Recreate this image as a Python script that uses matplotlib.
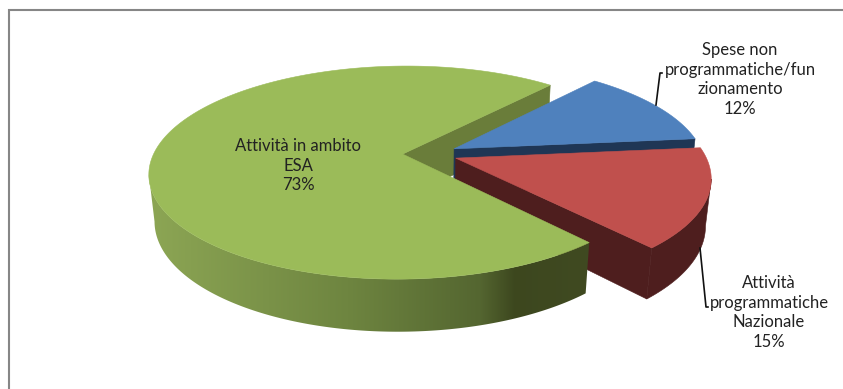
import matplotlib
matplotlib.use('Agg')
import matplotlib.pyplot as plt
from matplotlib.patches import Polygon
import numpy as np

labels = ['Spese non\nprogrammatiche/fun\nzionamento', 'Attività\nprogrammatiche\nNazionale', 'Attività in ambito\nESA']
shares = [12, 15, 73]

top_colors = ['#4f81bd', '#c0504d', '#9bbb59']
edge_wall_colors = ['#1f3655', '#4e1e1e', '#6a7d3a']

# shading of the green outer wall, from its left end to its right end
green_wall_x = [150, 350, 480, 515, 590]
green_wall_rgb = [[0.55, 0.65, 0.33], [0.43, 0.52, 0.25], [0.33, 0.40, 0.19], [0.24, 0.28, 0.12], [0.25, 0.29, 0.13]]

start_angle = 41.0   # clockwise from the back of the pie
explode = 0.11

# camera set up by hand, everything in pixels
cx, cy = 430, 154
scale_x, scale_y = 249, 103.3
persp = 0.1737
depth = 47
depth_persp = 0.02

def project(u, v, z=0.0):
    w = 1 + persp * v + depth_persp * z
    return cx + scale_x * u / w, cy - (scale_y * v - depth * z) / w

def slice_angles():
    edges = start_angle + 360 * np.cumsum([0] + shares) / np.sum(shares)
    return np.radians(edges[:-1]), np.radians(edges[1:])

def offset(a0, a1):
    mid = (a0 + a1) / 2
    return explode * np.sin(mid), explode * np.cos(mid)

def arc_points(a0, a1, off, z=0.0, n=400):
    t = np.linspace(a0, a1, n)
    return project(np.sin(t) + off[0], np.cos(t) + off[1], z)

def top_face(ax, a0, a1, off, color, zo):
    x, y = arc_points(a0, a1, off)
    ax0, ay0 = project(off[0], off[1])
    ax.fill(np.r_[ax0, x], np.r_[ay0, y], color=color, lw=0.4, zorder=zo)

def radial_wall(ax, angle, off, color, zo):
    tip = (np.sin(angle) + off[0], np.cos(angle) + off[1])
    pts = [project(off[0], off[1]), project(*tip), project(tip[0], tip[1], 1), project(off[0], off[1], 1)]
    ax.fill(*zip(*pts), color=color, lw=0.4, zorder=zo)

def left_wall(a0, a1, off):
    # arc runs towards the left silhouette, stop each rim at its own extreme
    xa, ya = arc_points(a0, a1, off, 0)
    xb, yb = arc_points(a0, a1, off, 1)
    ia, ib = np.argmin(xa) + 1, np.argmin(xb) + 1
    return np.c_[np.r_[xa[:ia], xb[:ib][::-1]], np.r_[ya[:ia], yb[:ib][::-1]]]

def right_wall(a0, a1, off):
    # arc starts before the right silhouette, begin each rim at its own extreme
    xa, ya = arc_points(a0, a1, off, 0)
    xb, yb = arc_points(a0, a1, off, 1)
    ia, ib = np.argmax(xa), np.argmax(xb)
    return np.c_[np.r_[xa[ia:], xb[ib:][::-1]], np.r_[ya[ia:], yb[ib:][::-1]]]

fig = plt.figure(figsize=(8.43, 3.89), dpi=100)
ax = fig.add_axes([0, 0, 1, 1])

plt.rcParams['font.family'] = ['Lato', 'DejaVu Sans']

# chart frame, only left and top show
ax.plot([9, 9, 843], [389, 10, 10], color='#868686', lw=1.5, solid_joinstyle='miter', zorder=1)

a0s, a1s = slice_angles()
offs = [offset(a, b) for a, b in zip(a0s, a1s)]

# back to front: green back edge, blue, red, then the big green slice
radial_wall(ax, a1s[2], offs[2], edge_wall_colors[2], 2)

radial_wall(ax, a1s[0], offs[0], edge_wall_colors[0], 3)
top_face(ax, a0s[0], a1s[0], offs[0], top_colors[0], 4)

radial_wall(ax, a1s[1], offs[1], edge_wall_colors[1], 5)
ax.fill(*right_wall(a0s[1], a1s[1], offs[1]).T, color=edge_wall_colors[1], lw=0.4, zorder=5)
top_face(ax, a0s[1], a1s[1], offs[1], top_colors[1], 6)

# green outer wall: horizontal colour ramp clipped to the wall shape
grad_x = np.linspace(140, 600, 460)
grad = np.stack([np.interp(grad_x, green_wall_x, [c[i] for c in green_wall_rgb]) for i in range(3)], axis=1)[None, :, :]
im = ax.imshow(grad, extent=(140, 600, 340, 150), aspect='auto', zorder=7, interpolation='bilinear')
wall = Polygon(left_wall(a0s[2], np.radians(300), offs[2]), transform=ax.transData)
im.set_clip_path(wall)
top_face(ax, a0s[2], a1s[2], offs[2], top_colors[2], 8)

# leader lines
ax.plot([656, 660, 662], [105, 73, 73], color='#111111', lw=1.2, zorder=9)
ax.plot([700, 706, 708], [248, 307, 307], color='#111111', lw=1.2, zorder=9)

# data labels
label_x = [740, 769, 298]
label_y = [50, 283, 146]
line_h = 19.6
for text, share, x, y in zip(labels, shares, label_x, label_y):
    lines = text.split('\n') + [f'{share}%']
    for i, line in enumerate(lines):
        ax.text(x, y + i * line_h, line, ha='center', va='center', fontsize=12,
                color='#222222', zorder=10)

ax.set_xlim(0, 843)
ax.set_ylim(389, 0)
ax.axis('off')

fig.savefig('out.png', dpi=100)
